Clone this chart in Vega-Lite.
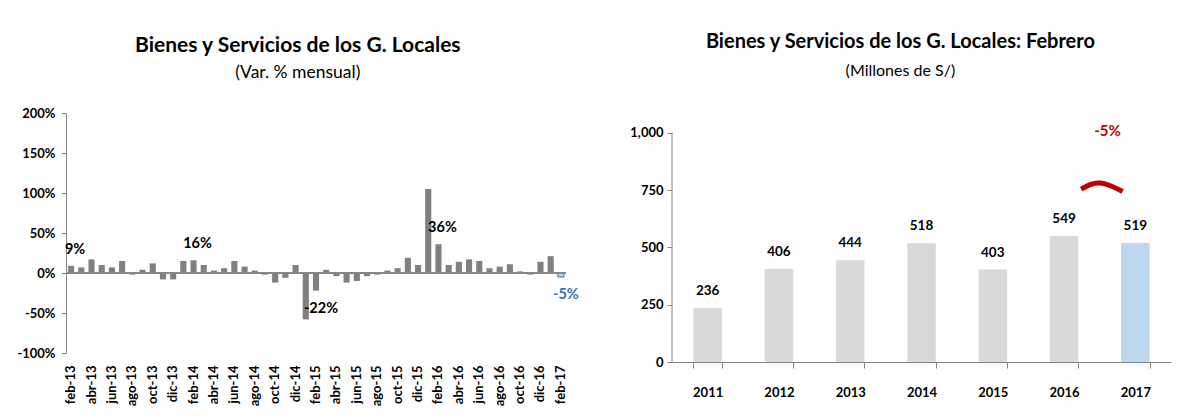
{
  "$schema": "https://vega.github.io/schema/vega-lite/v6.json",
  "background": "white",
  "padding": {"left": 16, "top": 32, "right": 5, "bottom": 0},
  "config": {
    "font": "Lato",
    "view": {"stroke": null},
    "axis": {"labelFont": "Lato", "labelFontWeight": "bold", "labelColor": "black", "domainColor": "#868686", "tickColor": "#868686", "grid": false, "title": null},
    "title": {"font": "Lato", "fontSize": 21, "fontWeight": "bold", "color": "black", "subtitleFont": "Lato", "subtitleFontSize": 17.5, "subtitleColor": "black", "subtitleFontWeight": "normal", "subtitlePadding": 8, "anchor": "middle", "frame": "bounds"},
    "concat": {"spacing": 50}
  },
  "hconcat": [
    {
      "title": {"text": "Bienes y Servicios de los G. Locales", "subtitle": "(Var. % mensual)", "offset": 26},
      "width": 500,
      "height": 240,
      "data": {"values": [
        {"month": "feb-13", "v": 9, "label": "9%"},
        {"month": "mar-13", "v": 7},
        {"month": "abr-13", "v": 17},
        {"month": "may-13", "v": 10},
        {"month": "jun-13", "v": 7},
        {"month": "jul-13", "v": 15},
        {"month": "ago-13", "v": -2},
        {"month": "sep-13", "v": 4},
        {"month": "oct-13", "v": 12},
        {"month": "nov-13", "v": -8},
        {"month": "dic-13", "v": -8},
        {"month": "ene-14", "v": 15},
        {"month": "feb-14", "v": 16, "label": "16%"},
        {"month": "mar-14", "v": 10},
        {"month": "abr-14", "v": 3},
        {"month": "may-14", "v": 6},
        {"month": "jun-14", "v": 15},
        {"month": "jul-14", "v": 8},
        {"month": "ago-14", "v": 3},
        {"month": "sep-14", "v": -2},
        {"month": "oct-14", "v": -12},
        {"month": "nov-14", "v": -6},
        {"month": "dic-14", "v": 10},
        {"month": "ene-15", "v": -58},
        {"month": "feb-15", "v": -22, "label": "-22%"},
        {"month": "mar-15", "v": 4},
        {"month": "abr-15", "v": -4},
        {"month": "may-15", "v": -12},
        {"month": "jun-15", "v": -10},
        {"month": "jul-15", "v": -4},
        {"month": "ago-15", "v": -2},
        {"month": "sep-15", "v": 3},
        {"month": "oct-15", "v": 6},
        {"month": "nov-15", "v": 19},
        {"month": "dic-15", "v": 10},
        {"month": "ene-16", "v": 105},
        {"month": "feb-16", "v": 36, "label": "36%"},
        {"month": "mar-16", "v": 10},
        {"month": "abr-16", "v": 14},
        {"month": "may-16", "v": 17},
        {"month": "jun-16", "v": 15},
        {"month": "jul-16", "v": 6},
        {"month": "ago-16", "v": 8},
        {"month": "sep-16", "v": 11},
        {"month": "oct-16", "v": 2},
        {"month": "nov-16", "v": -2},
        {"month": "dic-16", "v": 14},
        {"month": "ene-17", "v": 21},
        {"month": "feb-17", "v": -5, "label": "-5%"}
      ]},
      "encoding": {
        "y": {"field": "v", "type": "quantitative", "scale": {"domain": [-100, 200]},
              "axis": {"values": [-100, -50, 0, 50, 100, 150, 200], "labelExpr": "datum.value + '%'", "labelFontSize": 13, "tickSize": 5, "labelPadding": 6}}
      },
      "layer": [
        {
          "mark": {"type": "bar"},
          "encoding": {
            "x": {"field": "month", "type": "nominal", "sort": null,
                  "scale": {"paddingInner": 0.4, "paddingOuter": 0.2},
                  "axis": {"values": ["feb-13","abr-13","jun-13","ago-13","oct-13","dic-13","feb-14","abr-14","jun-14","ago-14","oct-14","dic-14","feb-15","abr-15","jun-15","ago-15","oct-15","dic-15","feb-16","abr-16","jun-16","ago-16","oct-16","dic-16","feb-17"],
                           "labelAngle": -90, "labelAlign": "right", "labelBaseline": "middle", "labelFontSize": 13, "ticks": false, "domain": false, "labelPadding": 12}},
            "color": {"condition": {"test": "datum.month === 'feb-17'", "value": "#bdd7ee"}, "value": "#808080"},
            "stroke": {"condition": {"test": "datum.month === 'feb-17'", "value": "#2e75b6"}, "value": null}
          }
        },
        {
          "mark": {"type": "rule", "color": "#868686"},
          "encoding": {"y": {"datum": 0}}
        },
        {
          "transform": [{"filter": "datum.label && datum.v >= 0"}],
          "mark": {"type": "text", "baseline": "bottom", "dy": -9, "dx": 4, "fontSize": 14.5, "fontWeight": "bold", "color": "black"},
          "encoding": {
            "x": {"field": "month", "type": "nominal", "sort": null},
            "text": {"field": "label"}
          }
        },
        {
          "transform": [{"filter": "datum.label && datum.v < 0"}],
          "mark": {"type": "text", "baseline": "top", "dy": 11, "dx": 5, "fontSize": 14.5, "fontWeight": "bold"},
          "encoding": {
            "x": {"field": "month", "type": "nominal", "sort": null},
            "text": {"field": "label"},
            "color": {"condition": {"test": "datum.month === 'feb-17'", "value": "#2e75b6"}, "value": "black"}
          }
        }
      ]
    },
    {
      "title": {"text": "Bienes y Servicios de los G. Locales: Febrero", "subtitle": "(Millones de S/)", "offset": 34, "fontSize": 20, "subtitleFontSize": 16, "subtitlePadding": 11},
      "width": 499,
      "height": 249,
      "encoding": {
        "y": {"field": "value", "type": "quantitative", "scale": {"domain": [0, 1086], "nice": false},
              "axis": {"values": [0, 250, 500, 750, 1000], "format": ",.0f", "labelFontSize": 13, "tickSize": 5, "labelPadding": 4, "domain": false}}
      },
      "layer": [
        {
          "data": {"name": "years"},
          "encoding": {
            "x": {"field": "year", "type": "ordinal", "scale": {"paddingInner": 0.6, "paddingOuter": 0.3},
                  "axis": {"labelAngle": 0, "tickBand": "extent", "labelFontSize": 13, "labelPadding": 18, "tickSize": 6}}
          },
          "layer": [
            {
              "mark": {"type": "bar"},
              "encoding": {
                "color": {"condition": {"test": "datum.year === '2017'", "value": "#bdd7ee"}, "value": "#d9d9d9"}
              }
            },
            {
              "mark": {"type": "text", "baseline": "bottom", "dy": -10, "fontSize": 13.5, "fontWeight": "bold", "color": "black"},
              "encoding": {"text": {"field": "value"}}
            }
          ]
        },
        {
          "encoding": {
            "x": {"field": "px", "type": "quantitative", "scale": {"domain": [0, 7]}, "axis": null}
          },
          "layer": [
            {
              "data": {"name": "axisline"},
              "mark": {"type": "rule", "color": "#868686"},
              "encoding": {"y2": {"field": "value2"}}
            },
            {
              "data": {"name": "arc"},
              "mark": {"type": "line", "color": "#c00000", "strokeWidth": 5, "interpolate": "basis", "strokeCap": "butt"},
              "encoding": {}
            },
            {
              "data": {"name": "pct"},
              "mark": {"type": "text", "fontSize": 15, "fontWeight": "bold", "color": "#c00000", "baseline": "middle"},
              "encoding": {"text": {"field": "label"}}
            }
          ]
        }
      ],
      "resolve": {"scale": {"x": "independent"}, "axis": {"x": "independent"}}
    }
  ],
  "datasets": {
    "years": [
      {"year": "2011", "value": 236},
      {"year": "2012", "value": 406},
      {"year": "2013", "value": 444},
      {"year": "2014", "value": 518},
      {"year": "2015", "value": 403},
      {"year": "2016", "value": 549},
      {"year": "2017", "value": 519}
    ],
    "axisline": [
      {"px": 0, "value": 0, "value2": 1000}
    ],
    "arc": [
      {"px": 5.74, "value": 754},
      {"px": 5.88, "value": 778},
      {"px": 6.0, "value": 784},
      {"px": 6.17, "value": 768},
      {"px": 6.32, "value": 744}
    ],
    "pct": [
      {"px": 6.11, "value": 1008, "label": "-5%"}
    ]
  }
}
